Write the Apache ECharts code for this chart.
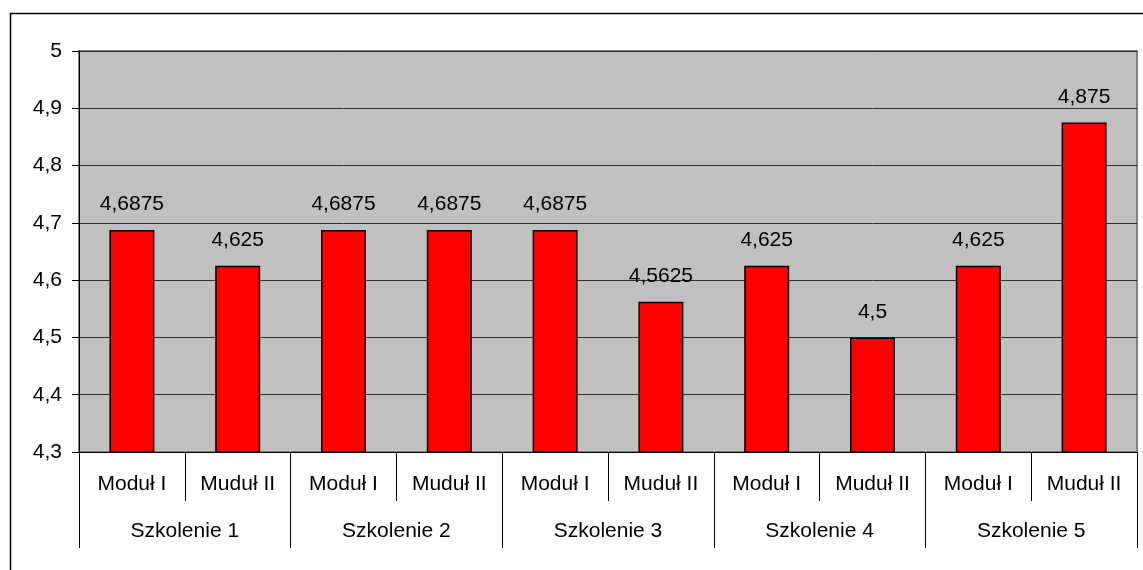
<!DOCTYPE html>
<html>
<head>
<meta charset="utf-8">
<script src="https://cdn.jsdelivr.net/npm/echarts@6/dist/echarts.min.js"></script>
<style>html,body{margin:0;padding:0;background:#fff;}#c{width:1143px;height:570px;}</style>
</head>
<body>
<div id="c"></div>
<script>
const modules = ['Moduł I', 'Muduł II', 'Moduł I', 'Muduł II', 'Moduł I', 'Muduł II', 'Moduł I', 'Muduł II', 'Moduł I', 'Muduł II'];
const groups = ['Szkolenie 1', 'Szkolenie 2', 'Szkolenie 3', 'Szkolenie 4', 'Szkolenie 5'];
const values = [4.6875, 4.625, 4.6875, 4.6875, 4.6875, 4.5625, 4.625, 4.5, 4.625, 4.875];
const yTicks = [4.3, 4.4, 4.5, 4.6, 4.7, 4.8, 4.9, 5];

const fmt = v => String(v).replace('.', ',');
const FONT = '"Liberation Sans", Arial, sans-serif';

const chart = echarts.init(document.getElementById('c'));
chart.setOption({
  animation: false,
  backgroundColor: '#ffffff',
  grid: {
    left: 79, right: 6, top: 51, bottom: 118,
    show: true, backgroundColor: '#c0c0c0', borderColor: '#808080', borderWidth: 2
  },
  graphic: [{
    type: 'rect', left: 8, top: 11, z: -10,
    shape: { width: 1200, height: 700 },
    style: { fill: 'none', stroke: '#000', lineWidth: 1.5 }
  }],
  xAxis: [{
    type: 'category', data: modules, position: 'bottom', offset: 0,
    axisLine: { show: true, lineStyle: { color: '#000', width: 1 } },
    axisTick: { show: true, interval: 0, length: 49, lineStyle: { color: '#000' } },
    axisLabel: { interval: 0, margin: 32, verticalAlign: 'middle', color: '#000', fontFamily: FONT, fontSize: 21 },
    splitLine: { show: false }
  }, {
    type: 'category', data: groups, position: 'bottom', offset: 0,
    axisLine: { show: false },
    axisTick: { show: true, interval: 0, length: 96, lineStyle: { color: '#000' } },
    axisLabel: { interval: 0, margin: 79, verticalAlign: 'middle', color: '#000', fontFamily: FONT, fontSize: 21 },
    splitLine: { show: false }
  }],
  yAxis: {
    type: 'value', min: yTicks[0], max: yTicks[yTicks.length - 1], interval: 0.1,
    axisLine: { show: true, lineStyle: { color: '#000', width: 1 } },
    axisTick: { show: true, length: 7, lineStyle: { color: '#000' } },
    axisLabel: { margin: 17, color: '#000', fontFamily: FONT, fontSize: 21,
      formatter: v => fmt(Math.round(v * 10) / 10) },
    splitLine: { show: true, lineStyle: { color: '#303030', width: 1 } }
  },
  series: [{
    type: 'bar', data: values, xAxisIndex: 0, barWidth: 45,
    itemStyle: { color: '#ff0000', borderColor: '#000', borderWidth: 1.5 },
    label: { show: true, position: 'top', distance: 15, color: '#000', fontFamily: FONT, fontSize: 21,
      formatter: p => fmt(p.value) }
  }]
});
</script>
</body>
</html>
